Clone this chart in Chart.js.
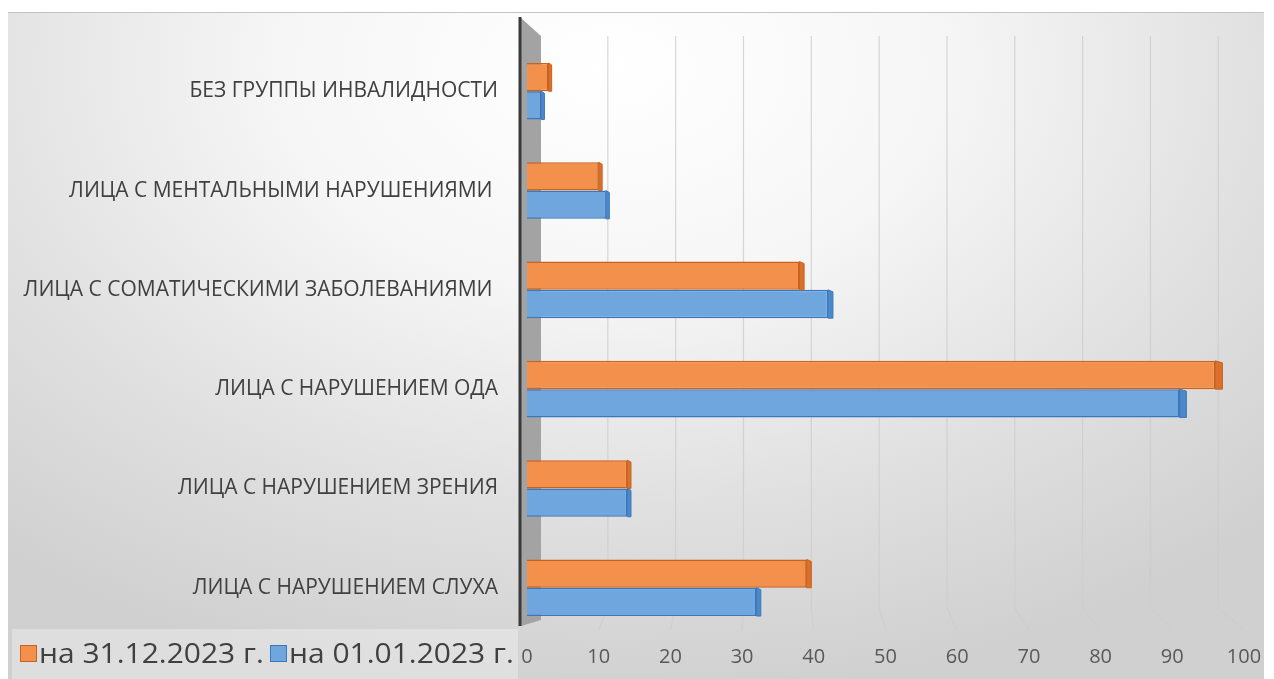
<!DOCTYPE html>
<html lang="ru">
<head>
<meta charset="utf-8">
<title>Численность</title>
<script src="https://cdn.jsdelivr.net/npm/chart.js@4.4.1/dist/chart.umd.min.js"></script>
<style>
  html, body { margin: 0; padding: 0; background: #fff; }
  #wrap { position: relative; width: 1274px; height: 679px; overflow: hidden; }
  #bg {
    position: absolute; left: 8px; top: 12px; width: 1256px; height: 667px;
    border-top: 1px solid #c4c4c4;
    background: radial-gradient(ellipse 75% 95% at 48% 8%, #ffffff 0%, #f6f6f6 35%, #e0e0e0 70%, #d0d0d0 100%);
  }
  #legendBox {
    position: absolute; left: 12px; top: 629px; width: 506px; height: 50px;
    background: rgba(255, 255, 255, 0.3);
  }
  #legend {
    position: absolute; left: 0; top: 0;
    font-family: "Open Sans", sans-serif; font-size: 27px; color: #404040;
    white-space: nowrap;
  }
  #legend .box {
    position: absolute; width: 17px; height: 17px; top: 645px; box-sizing: border-box;
  }
  #legend .txt {
    position: absolute; top: 634px; line-height: 38px;
    transform: scaleX(1.11); transform-origin: 0 50%;
  }
  canvas { position: absolute; left: 0; top: 0; }
</style>
</head>
<body>
<div id="wrap">
  <div id="bg"></div>
  <div id="legendBox"></div>
  <canvas id="chart" width="1274" height="679"></canvas>
  <div id="legend"></div>
</div>
<script>
// categories, top to bottom
const categories = [
  "БЕЗ ГРУППЫ ИНВАЛИДНОСТИ",
  "ЛИЦА С МЕНТАЛЬНЫМИ НАРУШЕНИЯМИ ",
  "ЛИЦА С СОМАТИЧЕСКИМИ ЗАБОЛЕВАНИЯМИ ",
  "ЛИЦА С НАРУШЕНИЕМ ОДА",
  "ЛИЦА С НАРУШЕНИЕМ ЗРЕНИЯ",
  "ЛИЦА С НАРУШЕНИЕМ СЛУХА",
];
const seriesNames = ["на 31.12.2023 г.", "на 01.01.2023 г."];
const valuesEnd2023 = [3, 10, 38, 96, 14, 39];
const valuesStart2023 = [2, 11, 42, 91, 14, 32];
const xMin = 0;
const xMax = 100;
const xStep = 10;

const orange = { fill: "#f3904c", edge: "#c9621c", side: "#d9712c" };
const blue = { fill: "#6fa6de", edge: "#3a78bd", side: "#4d88c9" };

// html legend, placed like the original one
const legendEl = document.getElementById("legend");
const legendPos = [{ box: 20, text: 39 }, { box: 270, text: 289 }];
[orange, blue].forEach((c, i) => {
  const box = document.createElement("span");
  box.className = "box";
  box.style.left = legendPos[i].box + "px";
  box.style.background = c.fill;
  box.style.border = "1px solid " + c.edge;
  legendEl.appendChild(box);
  const txt = document.createElement("span");
  txt.className = "txt";
  txt.style.left = legendPos[i].text + "px";
  txt.textContent = seriesNames[i];
  legendEl.appendChild(txt);
});

// back wall, perspective grid lines and bar side faces
const wallPlugin = {
  id: "wall3d",
  beforeDatasetsDraw(chart) {
    const { ctx, chartArea, scales } = chart;
    const x = scales.x;
    const left = chartArea.left;
    ctx.save();
    for (let v = xMin + xStep; v <= xMax; v += xStep) {
      const front = x.getPixelForValue(v);
      const back = left + 13 + (front - left) * 0.946;
      ctx.beginPath();
      ctx.moveTo(back, 36);
      ctx.lineTo(back, 608);
      ctx.lineTo(front, 630);
      ctx.strokeStyle = "rgba(205,205,205,0.8)";
      ctx.lineWidth = 1.2;
      ctx.stroke();
    }
    // grey side wall
    ctx.beginPath();
    ctx.moveTo(left - 6, 18);
    ctx.lineTo(left + 14, 36);
    ctx.lineTo(left + 14, 620);
    ctx.lineTo(left - 6, 626);
    ctx.closePath();
    ctx.fillStyle = "#a3a3a3";
    ctx.fill();
    // dark axis edge
    ctx.beginPath();
    ctx.moveTo(left - 7, 17);
    ctx.lineTo(left - 7, 626);
    ctx.strokeStyle = "#3a3a3a";
    ctx.lineWidth = 3;
    ctx.stroke();
    ctx.restore();
  },
  afterDatasetsDraw(chart) {
    const { ctx } = chart;
    ctx.save();
    chart.data.datasets.forEach((ds, di) => {
      const meta = chart.getDatasetMeta(di);
      const c = di === 0 ? orange : blue;
      meta.data.forEach((bar) => {
        const top = bar.y - bar.height / 2;
        const bottom = bar.y + bar.height / 2;
        const d = 3 + (bar.x - chart.chartArea.left) * 0.006;
        ctx.beginPath();
        ctx.moveTo(bar.x, top);
        ctx.lineTo(bar.x + d, top + 2);
        ctx.lineTo(bar.x + d, bottom);
        ctx.lineTo(bar.x, bottom);
        ctx.closePath();
        ctx.fillStyle = c.side;
        ctx.fill();
        ctx.strokeStyle = c.edge;
        ctx.lineWidth = 1;
        ctx.stroke();
      });
    });
    ctx.restore();
  },
};

new Chart(document.getElementById("chart"), {
  type: "bar",
  data: {
    labels: categories,
    datasets: [
      {
        label: seriesNames[0],
        data: valuesEnd2023,
        backgroundColor: orange.fill,
        borderColor: orange.edge,
        borderWidth: 1.5,
        categoryPercentage: 0.57,
        barPercentage: 1.0,
      },
      {
        label: seriesNames[1],
        data: valuesStart2023,
        backgroundColor: blue.fill,
        borderColor: blue.edge,
        borderWidth: 1.5,
        categoryPercentage: 0.57,
        barPercentage: 1.0,
      },
    ],
  },
  options: {
    indexAxis: "y",
    responsive: false,
    animation: false,
    layout: { padding: { top: 41, right: 30, bottom: 11, left: 0 } },
    plugins: {
      legend: { display: false },
      tooltip: { enabled: false },
    },
    scales: {
      x: {
        min: xMin,
        max: xMax,
        grid: { display: false, drawTicks: false },
        border: { display: false },
        afterFit(scale) {
          scale.height = 30;
        },
        ticks: {
          stepSize: xStep,
          color: "#595959",
          padding: 8,
          font: { family: "'Open Sans', sans-serif", size: 20 },
        },
      },
      y: {
        grid: { display: false, drawTicks: false },
        border: { display: false },
        afterFit(scale) {
          scale.width = 527;
        },
        ticks: {
          color: "#404040",
          padding: 29,
          font: { family: "'Open Sans', sans-serif", size: 21 },
        },
      },
    },
  },
  plugins: [wallPlugin],
});
</script>
</body>
</html>
